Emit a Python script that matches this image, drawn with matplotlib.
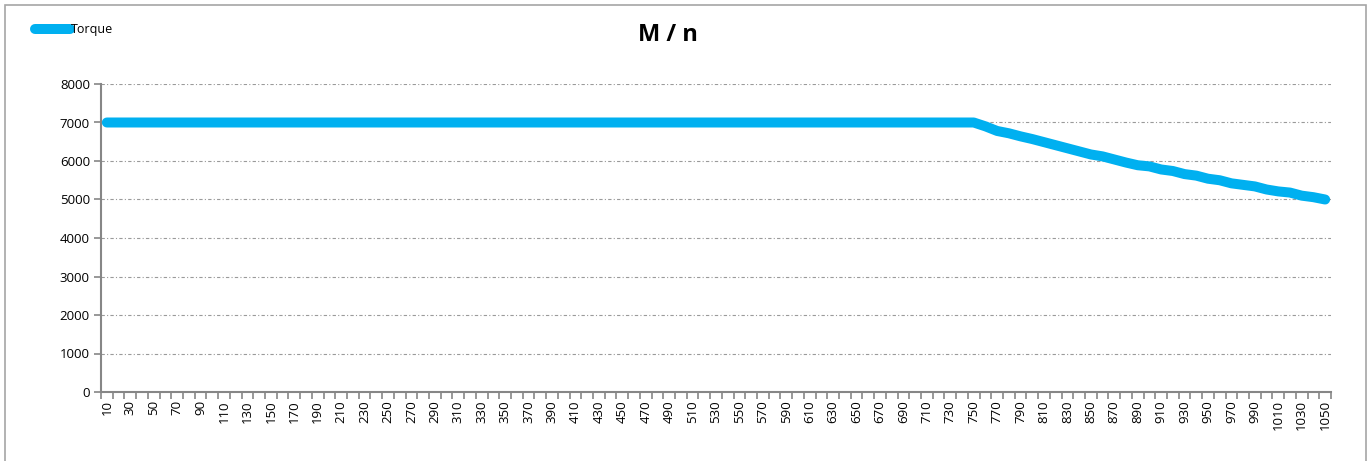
import matplotlib
matplotlib.use("Agg")
import matplotlib.pyplot as plt
from matplotlib.patches import Rectangle

# Speed categories (rpm) and torque values (Nm)
speeds = list(range(10, 1051, 10))
torque_flat = [7000] * 75  # 10 .. 750 rpm
torque_falling = [6900, 6780, 6720, 6640, 6570, 6490, 6410, 6330, 6250, 6170,
                  6120, 6040, 5960, 5890, 5860, 5780, 5740, 5660, 5620, 5540,
                  5500, 5420, 5380, 5340, 5260, 5210, 5180, 5100, 5060, 5000]  # 760 .. 1050 rpm
torque = torque_flat + torque_falling
y_ticks = [0, 1000, 2000, 3000, 4000, 5000, 6000, 7000, 8000]
title = "M / n"
series_name = "Torque"

plt.rcParams["font.family"] = ["Open Sans", "DejaVu Sans"]

W, H = 1372, 461
fig = plt.figure(figsize=(W / 100, H / 100), dpi=100)

# thin grey frame around the chart area
fig.patches.append(Rectangle((5 / W, -0.02), (1366 - 5) / W, 1 - 5 / H + 0.02,
                             transform=fig.transFigure, fill=False,
                             edgecolor="#a6a6a6", linewidth=1.2))

ax = fig.add_axes([101 / W, 1 - 392 / H, (1331 - 101) / W, (392 - 84) / H])

x = list(range(len(speeds)))
line, = ax.plot(x, torque, color="#00B0F0", linewidth=7.2,
                solid_capstyle="round", solid_joinstyle="round", zorder=3,
                label=series_name)

ax.set_xlim(-0.5, len(speeds) - 0.5)
ax.set_ylim(0, 8000)
ax.set_yticks(y_ticks)
ax.set_yticklabels([str(v) for v in y_ticks], fontsize=9.5)

# labels on every other category, tick marks on category boundaries
ax.set_xticks(x[::2])
ax.set_xticklabels([str(s) for s in speeds[::2]], rotation=90, fontsize=9.5)
ax.set_xticks([i - 0.5 for i in range(len(speeds) + 1)], minor=True)
ax.tick_params(axis="x", which="major", length=0, pad=6)
ax.tick_params(axis="x", which="minor", length=5, width=1.2, color="#868686", direction="out")
ax.tick_params(axis="y", which="major", length=5, width=1.2, color="#868686", direction="out", pad=3)

ax.grid(axis="y", which="major", linestyle=(0, (3, 2, 1, 2)), color="#9a9a9a", linewidth=0.8)
ax.set_axisbelow(True)

for side in ("top", "right"):
    ax.spines[side].set_visible(False)
for side in ("left", "bottom"):
    ax.spines[side].set_color("#868686")
    ax.spines[side].set_linewidth(1.5)

fig.text(668 / W, 1 - 35 / H, title, ha="center", va="center",
         fontsize=17, fontweight="bold")

fig.legend(handles=[line], loc="center left", bbox_to_anchor=(35 / W, 1 - 30 / H),
           frameon=False, fontsize=9, handlelength=2.8, handletextpad=0.1,
           borderpad=0, borderaxespad=0)

fig.savefig("out.png", dpi=100)
